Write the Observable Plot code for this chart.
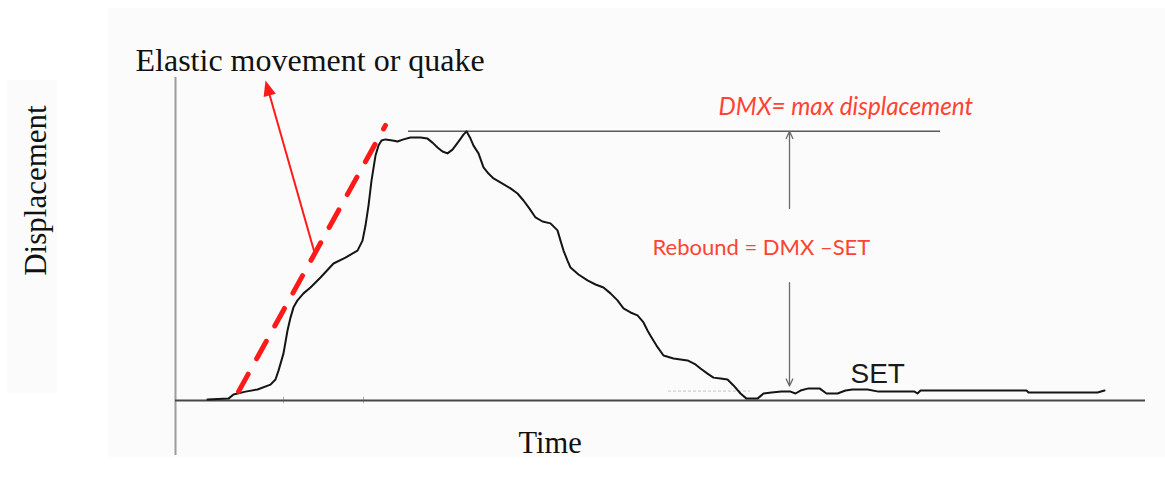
<!DOCTYPE html>
<html>
<head>
<meta charset="utf-8">
<script src="https://cdn.jsdelivr.net/npm/d3@7"></script>
<script src="https://cdn.jsdelivr.net/npm/@observablehq/plot@0.6"></script>
<style>
  body { margin: 0; background: #fff; }
  #chart { position: relative; width: 1165px; height: 483px; overflow: hidden; }
  #chart .haze { position: absolute; background: #fbfbfb; }
  #chart svg { position: relative; display: block; }
</style>
</head>
<body>
<div id="chart">
  <div class="haze" style="left:108px;top:8px;width:1057px;height:449px"></div>
  <div class="haze" style="left:7px;top:80px;width:50px;height:313px"></div>
</div>
<script>
// Pile head trace during a blow: displacement against time
const time = [
  3.2, 5.3, 5.8, 7.0, 8.2, 9.5, 10.0, 10.3, 10.6, 10.8,
  11.2, 11.5, 11.8, 12.2, 12.8, 13.5, 14.5, 15.8, 17.0, 18.2,
  18.7, 19.0, 19.3, 19.6, 20.0, 20.3, 20.6, 21.0, 21.7, 22.2,
  22.8, 23.5, 24.5, 25.2, 25.7, 26.2, 26.7, 27.2, 27.7, 28.3,
  28.8, 29.1, 29.5, 29.8, 30.3, 30.8, 31.3, 31.8, 32.7, 33.5,
  34.2, 34.8, 35.4, 36.0, 36.7, 37.5, 38.2, 38.5, 38.8, 39.2,
  39.5, 40.3, 41.2, 42.0, 42.8, 43.5, 44.2, 44.8, 45.5, 46.2,
  46.8, 47.2, 47.5, 48.1, 48.8, 49.8, 51.2, 52.0, 52.5, 53.2,
  53.8, 54.5, 55.2, 55.8, 56.5, 57.1, 58.2, 58.8, 59.6, 60.6,
  61.5, 62.0, 62.5, 63.3, 64.4, 65.1, 66.2, 67.0, 67.7, 69.2,
  70.3, 73.9, 74.2, 74.5, 85.1, 85.3, 92.2, 92.9
];
const displacement = [
  0.4, 0.7, 2.2, 3.3, 4.1, 5.9, 7.8, 11.1, 14.9, 17.5,
  26.0, 30.8, 34.6, 37.2, 39.8, 42.0, 45.7, 50.9, 53.1, 55.7,
  59.4, 65.0, 72.4, 81.7, 91.0, 94.7, 96.6, 97.0, 96.6, 96.2,
  97.0, 97.7, 97.7, 97.3, 95.8, 94.0, 92.5, 91.8, 93.2, 96.2,
  98.8, 100, 97.3, 94.7, 91.8, 86.6, 84.3, 82.5, 80.6, 78.8,
  76.9, 74.3, 71.3, 68.0, 66.5, 65.8, 63.2, 59.4, 55.7, 52.0,
  49.4, 46.8, 44.6, 43.1, 42.0, 39.8, 37.2, 34.2, 32.7, 31.6,
  29.0, 26.0, 24.1, 20.4, 16.7, 15.6, 14.9, 13.4, 11.9, 10.0,
  8.5, 8.2, 7.8, 5.6, 2.6, 0.7, 0.7, 2.6, 3.0, 3.3,
  3.3, 2.6, 3.7, 4.5, 4.5, 2.6, 2.6, 3.7, 4.1, 4.1,
  3.3, 3.3, 2.6, 3.7, 3.7, 3.0, 3.0, 3.7
];

// Elastic (quake) slope: start and end of the dashed guide
const quakeTime = [6.3, 21.0];
const quakeDisplacement = [3.3, 102.2];

// Callout arrow from the quake slope up to its caption
const calloutTail = {t: 13.9, d: 55.0};
const calloutTip = {t: 9.0, d: 118.9};

// Permanent set after rebound
const setLevel = 3.5;
const dmx = d3.max(displacement);

// Axis extents
const timeDomain = [0, 97];
const dispDomain = [0, 120];
const axisFloor = -20.4;

const W = 1165, H = 483;
const M = {left: 175, right: 20, top: 77, bottom: 83};
const kx = (W - M.left - M.right) / (timeDomain[1] - timeDomain[0]);
const ky = (H - M.top - M.bottom) / (dispDomain[1] - dispDomain[0]);

const trace = time.map((t, i) => ({t, d: displacement[i]}));
const quake = quakeTime.map((t, i) => ({t, d: quakeDisplacement[i]}));

// Callout geometry in screen pixels
const cdx = (calloutTip.t - calloutTail.t) * kx;
const cdy = -(calloutTip.d - calloutTail.d) * ky;
const clen = Math.hypot(cdx, cdy);
const cangle = Math.atan2(cdx, -cdy) * 180 / Math.PI;
const headLen = 15;
const shaftEnd = {
  t: calloutTip.t - (calloutTip.t - calloutTail.t) * (headLen - 3) / clen,
  d: calloutTip.d - (calloutTip.d - calloutTail.d) * (headLen - 3) / clen
};

// Filled arrowhead with its tip at the origin, pointing up
const arrowHead = {
  draw(context, size) {
    const h = Math.sqrt(size) * 1.25;
    const w = h * 0.82;
    context.moveTo(0, 0);
    context.lineTo(-w / 2, h);
    context.lineTo(w / 2, h);
    context.closePath();
  }
};

const RED = "#ff1a1a";
const TEXT_RED = "#ff4332";
const SERIF = "'Liberation Serif', 'Times New Roman', serif";
const CALIBRI_LIKE = "Lato, 'Open Sans', sans-serif";

const plot = Plot.plot({
  width: W,
  height: H,
  marginLeft: M.left,
  marginRight: M.right,
  marginTop: M.top,
  marginBottom: M.bottom,
  x: {domain: timeDomain, axis: null},
  y: {domain: dispDomain, axis: null},
  style: {background: "transparent", overflow: "visible"},
  marks: [
    // axes
    Plot.ruleX([timeDomain[0]], {y1: axisFloor, y2: dispDomain[1], stroke: "#9c9c9c", strokeWidth: 2}),
    Plot.ruleX([10.8, 18.8], {y1: -1.2, y2: 1.2, stroke: "#b5b5b5", strokeWidth: 1}),
    Plot.ruleY([0], {x1: timeDomain[0], x2: timeDomain[1], stroke: "#474747", strokeWidth: 2}),

    // max displacement and set levels
    Plot.ruleY([dmx], {x1: 23.3, x2: 76.5, stroke: "#5a5a5a", strokeWidth: 1.5}),
    Plot.ruleY([setLevel], {x1: 49.3, x2: 57.5, stroke: "#c4c4c4", strokeWidth: 1, strokeDasharray: "3,2"}),

    // rebound arrows
    Plot.arrow([{t: 61.4, from: 71.3, to: dmx}], {
      x1: "t", x2: "t", y1: "from", y2: "to",
      stroke: "#6a6a6a", strokeWidth: 1.3, headLength: 9, headAngle: 50
    }),
    Plot.arrow([{t: 61.4, from: 43.8, to: setLevel}], {
      x1: "t", x2: "t", y1: "from", y2: "to",
      stroke: "#6a6a6a", strokeWidth: 1.3, headLength: 9, headAngle: 50, insetEnd: 5
    }),

    // displacement trace
    Plot.line(trace, {x: "t", y: "d", stroke: "#151515", strokeWidth: 2, strokeLinejoin: "round"}),

    // elastic slope
    Plot.line(quake, {x: "t", y: "d", stroke: RED, strokeWidth: 5, strokeDasharray: "20,17.5"}),

    // callout arrow
    Plot.link([{a: calloutTail, b: shaftEnd}], {
      x1: (o) => o.a.t, y1: (o) => o.a.d, x2: (o) => o.b.t, y2: (o) => o.b.d,
      stroke: RED, strokeWidth: 2
    }),
    Plot.dot([calloutTip], {
      x: "t", y: "d", r: 7, symbol: arrowHead, fill: RED, stroke: "none", rotate: cangle
    }),

    // labels
    Plot.text(["Elastic movement or quake"], {
      x: -4.0, y: 126.3, textAnchor: "start", fontFamily: SERIF, fontSize: 32, fill: "#111"
    }),
    Plot.text(["Displacement"], {
      x: -13.9, y: 78.0, rotate: -90, textAnchor: "middle",
      fontFamily: SERIF, fontSize: 31, fill: "#111"
    }),
    Plot.text(["Time"], {
      x: 34.3, y: -15.75, textAnchor: "start", fontFamily: SERIF, fontSize: 30.5, fill: "#111"
    }),
    Plot.text(["DMX= max displacement"], {
      x: 54.3, y: 108.9, textAnchor: "start", fontFamily: CALIBRI_LIKE, fontStyle: "italic",
      fontSize: 24.3, fill: TEXT_RED
    }),
    Plot.text(["Rebound = DMX \u2013SET"], {
      x: 47.7, y: 56.5, textAnchor: "start", fontFamily: CALIBRI_LIKE, fontSize: 22, fill: TEXT_RED
    }),
    Plot.text(["SET"], {
      x: 67.5, y: 10.0, textAnchor: "start", fontFamily: "'Liberation Sans', Arial, sans-serif",
      fontSize: 28, fill: "#1a1a1a"
    })
  ]
});

document.getElementById("chart").appendChild(plot);
</script>
</body>
</html>
